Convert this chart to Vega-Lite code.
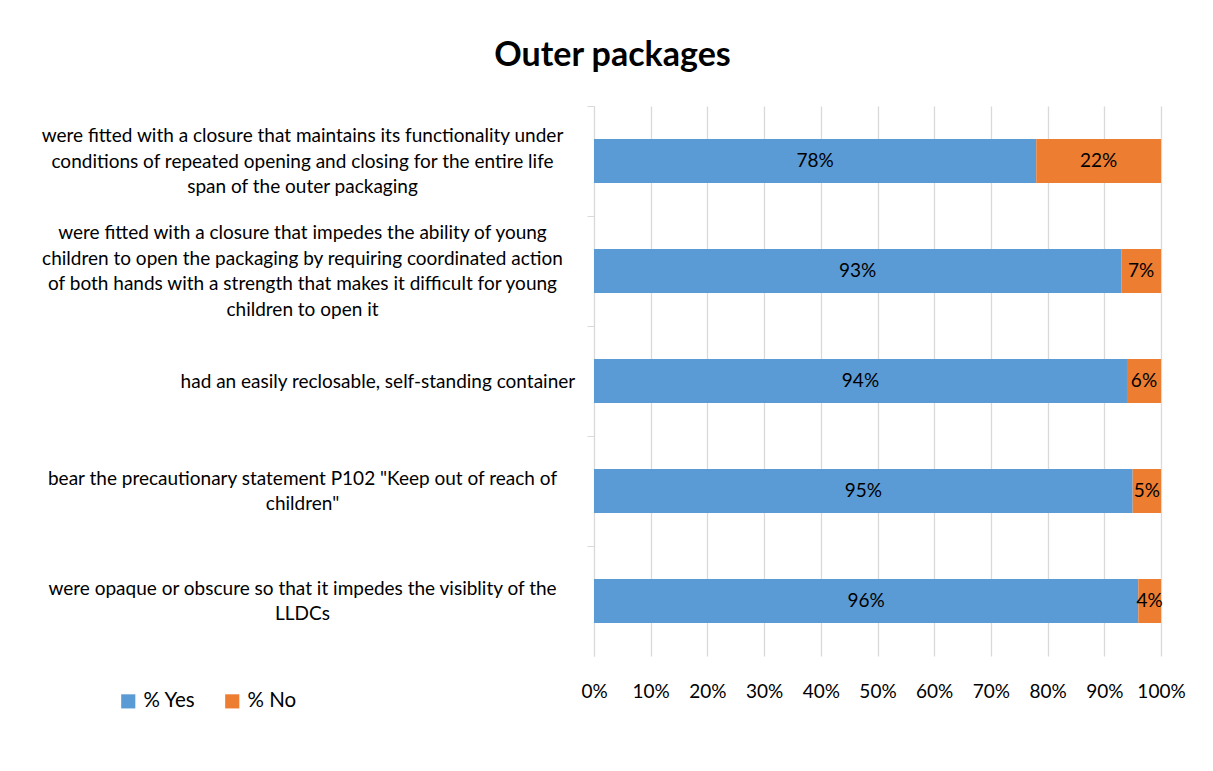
{
  "$schema": "https://vega.github.io/schema/vega-lite/v6.json",
  "autosize": "none",
  "width": 567,
  "height": 550,
  "padding": {"left": 594, "top": 106, "right": 52, "bottom": 115},
  "background": "white",
  "title": {
    "text": "Outer packages",
    "font": "Lato",
    "fontSize": 34,
    "fontWeight": "bold",
    "color": "#000000",
    "anchor": "middle",
    "frame": "group",
    "dx": -265,
    "offset": 33
  },
  "config": {
    "view": {"stroke": null},
    "font": "Lato"
  },
  "data": {
    "values": [
      {"item": "were fitted with a closure that maintains its functionality under|conditions of repeated opening and closing for the entire life|span of the outer packaging", "answer": "% Yes", "share": 0.78, "rank": 1},
      {"item": "were fitted with a closure that maintains its functionality under|conditions of repeated opening and closing for the entire life|span of the outer packaging", "answer": "% No", "share": 0.22, "rank": 2},
      {"item": "were fitted with a closure that impedes the ability of young|children to open the packaging by requiring coordinated action|of both hands with a strength that makes it difficult for young|children to open it", "answer": "% Yes", "share": 0.93, "rank": 1},
      {"item": "were fitted with a closure that impedes the ability of young|children to open the packaging by requiring coordinated action|of both hands with a strength that makes it difficult for young|children to open it", "answer": "% No", "share": 0.07, "rank": 2},
      {"item": "had an easily reclosable, self-standing container", "answer": "% Yes", "share": 0.94, "rank": 1},
      {"item": "had an easily reclosable, self-standing container", "answer": "% No", "share": 0.06, "rank": 2},
      {"item": "bear the precautionary statement P102 \"Keep out of reach of|children\"", "answer": "% Yes", "share": 0.95, "rank": 1},
      {"item": "bear the precautionary statement P102 \"Keep out of reach of|children\"", "answer": "% No", "share": 0.05, "rank": 2},
      {"item": "were opaque or obscure so that it impedes the visiblity of the|LLDCs", "answer": "% Yes", "share": 0.96, "rank": 1},
      {"item": "were opaque or obscure so that it impedes the visiblity of the|LLDCs", "answer": "% No", "share": 0.04, "rank": 2}
    ]
  },
  "encoding": {
    "y": {
      "field": "item",
      "type": "nominal",
      "sort": null,
      "title": null,
      "scale": {"paddingInner": 0.6, "paddingOuter": 0.3},
      "axis": {
        "labelExpr": "indexof(datum.label, 'had an') == 0 ? ['\u200b', '\u200b', '\u200b', '\u200b\u00a0\u00a0\u00a0\u00a0\u00a0\u00a0\u00a0\u00a0\u00a0\u00a0\u00a0\u00a0\u00a0\u00a0\u00a0\u00a0\u00a0\u00a0\u00a0\u00a0\u00a0\u00a0\u00a0\u00a0\u00a0\u00a0\u00a0\u00a0\u00a0\u00a0\u00a0' + datum.label] : split(slice('\u200b|\u200b|\u200b|', 0, 2 * (4 - length(split(datum.label, '|')))) + replace(datum.label, regexp('[|]', 'g'), '|\u200b|'), '|')",
        "labelFont": "Lato",
        "labelFontSize": 19,
        "labelColor": "#000000",
        "labelLineHeight": 12.75,
        "labelLimit": 800,
        "labelAlign": "center",
        "labelPadding": 285,
        "tickOffset": -55,
        "labelOffset": 16.75,
        "tickSize": 7,
        "tickColor": "#d9d9d9",
        "domainColor": "#d9d9d9",
        "grid": false
      }
    },
    "x": {
      "field": "share",
      "type": "quantitative",
      "stack": "normalize",
      "title": null,
      "axis": {
        "format": ".0%",
        "values": [0, 0.1, 0.2, 0.3, 0.4, 0.5, 0.6, 0.7, 0.8, 0.9, 1],
        "grid": true,
        "gridColor": "#d9d9d9",
        "gridWidth": 1.3,
        "domain": false,
        "ticks": false,
        "labelFont": "Lato",
        "labelFontSize": 19,
        "labelColor": "#000000",
        "labelPadding": 26,
        "labelFlush": false
      }
    },
    "order": {"field": "rank", "type": "quantitative"}
  },
  "layer": [
    {
      "mark": {"type": "bar"},
      "encoding": {
        "color": {
          "field": "answer",
          "type": "nominal",
          "sort": ["% Yes", "% No"],
          "scale": {"domain": ["% Yes", "% No"], "range": ["#5b9bd5", "#ed7d31"]},
          "legend": {
            "title": null,
            "orient": "none",
            "legendX": -476,
            "legendY": 585,
            "direction": "horizontal",
            "symbolType": "square",
            "symbolSize": 200,
            "symbolStrokeWidth": 0,
            "labelFont": "Lato",
            "labelFontSize": 20.5,
            "labelColor": "#000000",
            "columnPadding": 26,
            "labelOffset": 5
          }
        }
      }
    },
    {
      "mark": {"type": "text", "font": "Lato", "fontSize": 19, "color": "#000000"},
      "encoding": {
        "x": {"field": "share", "type": "quantitative", "stack": "normalize", "bandPosition": 0.5},
        "text": {"field": "share", "type": "quantitative", "format": ".0%"}
      }
    }
  ]
}
